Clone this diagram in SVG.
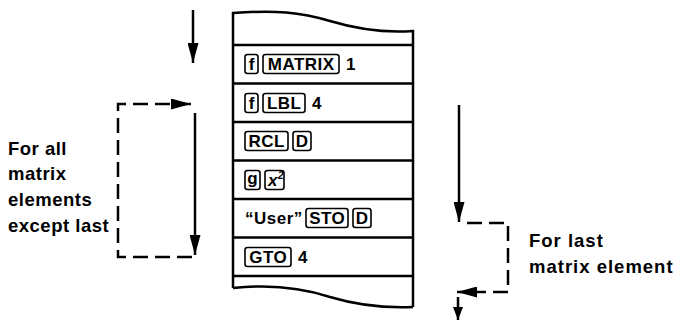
<svg xmlns="http://www.w3.org/2000/svg" width="686" height="321" viewBox="0 0 686 321">
<style>
.ln{stroke:#000;stroke-width:2.5;fill:none}
.dash{stroke:#000;stroke-width:2.5;fill:none;stroke-dasharray:15 7}
.key{stroke:#000;stroke-width:1.6;fill:#fff}
.kt{font-family:"Liberation Sans",Arial,sans-serif;font-weight:bold;font-size:17px;letter-spacing:0.5px;fill:#000}
.lab{font-family:"Liberation Sans",Arial,sans-serif;font-weight:bold;font-size:18.5px;letter-spacing:1px;fill:#000}
.labl{letter-spacing:0.5px}
.mid{text-anchor:middle}
</style>
<defs>
<marker id="ah" markerUnits="userSpaceOnUse" markerWidth="20" markerHeight="11" refX="20" refY="5.5" orient="auto">
<path d="M0,0 L20,5.5 L0,11 z" fill="#000"/>
</marker>
<marker id="ahs" markerUnits="userSpaceOnUse" markerWidth="13" markerHeight="10" refX="13" refY="5" orient="auto">
<path d="M0,0 L13,5 L0,10 z" fill="#000"/>
</marker>
</defs>

<g id="tape">
<path class="ln" d="M233,288 L233,13 C275,10 300,12 330,21 C360,30 385,33 413,31 L413,307"/>
<path class="ln" d="M233,288 C270,284 300,287 330,297 C360,306 390,308 413,307"/>
<line class="ln" x1="233" y1="45" x2="413" y2="45"/>
<line class="ln" x1="233" y1="83.5" x2="413" y2="83.5"/>
<line class="ln" x1="233" y1="122" x2="413" y2="122"/>
<line class="ln" x1="233" y1="160.5" x2="413" y2="160.5"/>
<line class="ln" x1="233" y1="199" x2="413" y2="199"/>
<line class="ln" x1="233" y1="237.5" x2="413" y2="237.5"/>
<line class="ln" x1="233" y1="276" x2="413" y2="276"/>
</g>

<g id="row-matrix">
<rect class="key" x="245" y="54.5" width="13" height="19" rx="2.5"/>
<text class="kt mid" x="251.8" y="70">f</text>
<rect class="key" x="263" y="54.5" width="76" height="19" rx="2.5"/>
<text class="kt mid" x="301.2" y="70">MATRIX</text>
<text class="kt" x="346" y="70">1</text>
</g>

<g id="row-lbl">
<rect class="key" x="245" y="93.5" width="13" height="19" rx="2.5"/>
<text class="kt mid" x="251.8" y="109">f</text>
<rect class="key" x="263" y="93.5" width="42" height="19" rx="2.5"/>
<text class="kt mid" x="284.2" y="109">LBL</text>
<text class="kt" x="312" y="109">4</text>
</g>

<g id="row-rcl">
<rect class="key" x="245" y="131.5" width="43" height="19" rx="2.5"/>
<text class="kt mid" x="266.7" y="147">RCL</text>
<rect class="key" x="293" y="131.5" width="18" height="19" rx="2.5"/>
<text class="kt mid" x="302.2" y="147">D</text>
</g>

<g id="row-gx2">
<rect class="key" x="245" y="170.5" width="15" height="19" rx="2.5"/>
<text class="kt mid" x="252.7" y="184">g</text>
<rect class="key" x="265" y="170.5" width="19" height="19" rx="2.5"/>
<text class="kt" x="268" y="186" font-style="italic">x<tspan font-size="10" dy="-7">2</tspan></text>
</g>

<g id="row-user">
<text class="kt" x="245" y="224">“User”</text>
<rect class="key" x="306" y="208.5" width="42" height="19" rx="2.5"/>
<text class="kt mid" x="327.2" y="224">STO</text>
<rect class="key" x="353" y="208.5" width="18" height="19" rx="2.5"/>
<text class="kt mid" x="362.2" y="224">D</text>
</g>

<g id="row-gto">
<rect class="key" x="245" y="247.5" width="46" height="19" rx="2.5"/>
<text class="kt mid" x="268.2" y="263">GTO</text>
<text class="kt" x="298" y="263">4</text>
</g>

<g id="connectors">
<line class="ln" x1="193" y1="10" x2="193" y2="63" marker-end="url(#ah)"/>
<line class="ln" x1="195" y1="113" x2="195" y2="255" marker-end="url(#ah)"/>
<path class="dash" d="M192,257 L118,257 L118,104 L191,104" marker-end="url(#ah)"/>
<line class="ln" x1="459" y1="105" x2="459" y2="222" marker-end="url(#ah)"/>
<path class="dash" d="M467,223 L508,223 L508,292 L457,292" marker-end="url(#ah)"/>
<line class="ln" x1="458" y1="297" x2="458" y2="320" marker-end="url(#ahs)"/>
</g>

<g id="labels">
<text class="lab labl" x="8" y="155">For all</text>
<text class="lab labl" x="8" y="180">matrix</text>
<text class="lab labl" x="8" y="206">elements</text>
<text class="lab labl" x="8" y="232">except last</text>
<text class="lab" x="529" y="247">For last</text>
<text class="lab" x="529" y="273">matrix element</text>
</g>
</svg>
